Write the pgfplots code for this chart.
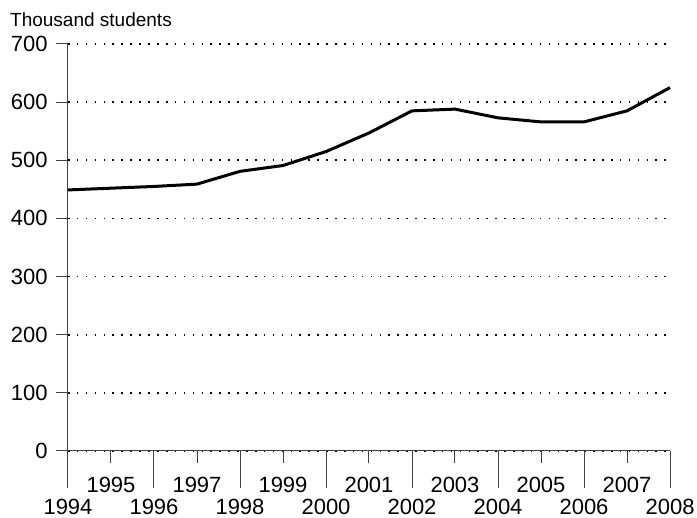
\documentclass[border=0pt]{standalone}
\usepackage{fontspec}
\setmainfont{Liberation Sans}
\usepackage{pgfplots}
\pgfplotsset{compat=1.18}
\begin{document}
\begin{tikzpicture}[x=1pt,y=1pt]
\path[use as bounding box] (-68,-67) rectangle (629,451);
\begin{axis}[
  at={(0,0)}, anchor=south west,
  scale only axis, width=602pt, height=407pt,
  xmin=1994, xmax=2008, ymin=0, ymax=700,
  axis x line=bottom, axis y line=left,
  axis line style={-, black!75, line width=1pt},
  tick style={black!75, line width=1pt},
  tick align=outside,
  major tick length=12pt,
  ytick={0,100,...,700},
  ymajorgrids,
  major grid style={black, line width=1.6pt, dash pattern=on 1.6pt off 7.3pt},
  xtick={1995,1997,...,2007},
  xticklabels={1995,1997,1999,2001,2003,2005,2007},
  extra x ticks={1994,1996,...,2008},
  extra x tick labels={1994,1996,1998,2000,2002,2004,2006,2008},
  extra x tick style={major tick length=37pt, grid=none, xticklabel style={inner sep=1pt, yshift=1pt}},
  tick label style={font=\fontsize{22}{26}\selectfont},
  xticklabel style={yshift=-11pt},
  yticklabel style={xshift=-5pt},
  /pgf/number format/assume math mode=true,
  clip=false,
]
\addplot[black, line width=3pt] coordinates {
(1994,449) (1995,452) (1996,455) (1997,459) (1998,481) (1999,491) (2000,515)
(2001,547) (2002,585) (2003,588) (2004,573) (2005,566) (2006,566) (2007,585) (2008,625)
};
\end{axis}
\node[anchor=base west, font=\fontsize{19}{22}\selectfont, inner sep=0] at (-58,424) {Thousand students};
\end{tikzpicture}
\end{document}
